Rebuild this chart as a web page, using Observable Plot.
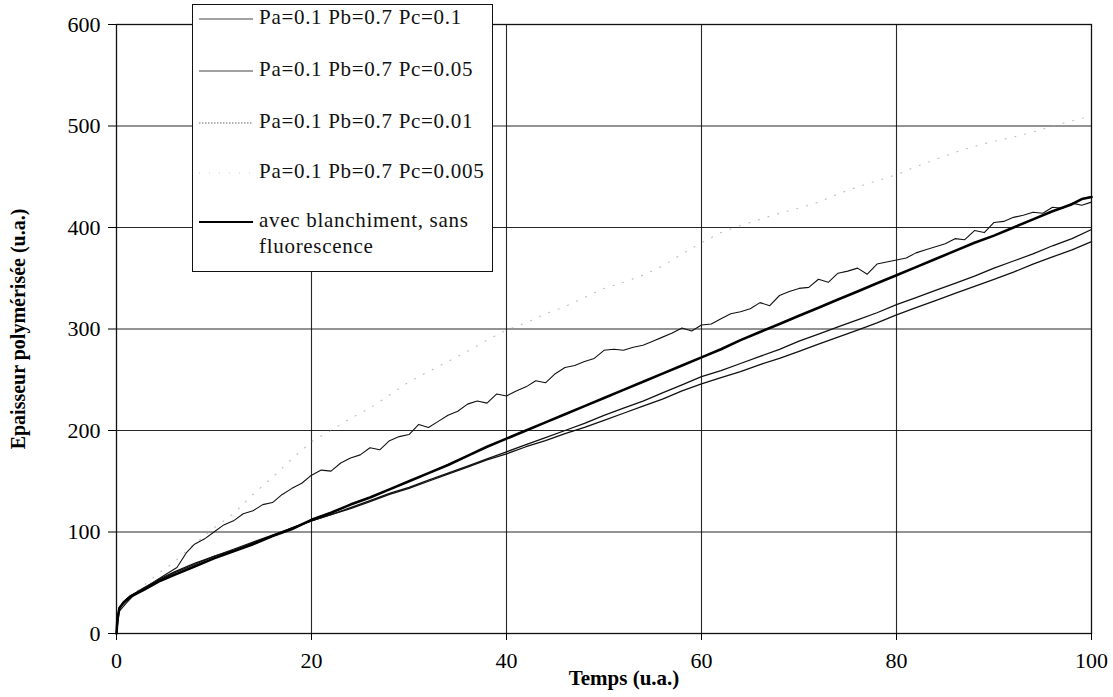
<!DOCTYPE html>
<html>
<head>
<meta charset="utf-8">
<script src="https://cdn.jsdelivr.net/npm/d3@7"></script>
<script src="https://cdn.jsdelivr.net/npm/@observablehq/plot@0.6"></script>
<style>
  html, body { margin: 0; padding: 0; background: #fff; }
  #wrap { position: relative; width: 1113px; height: 697px; font-family: "Liberation Serif", "Times New Roman", "DejaVu Serif", serif; }
  #wrap svg, #wrap svg text { font-family: "Liberation Serif", "Times New Roman", "DejaVu Serif", serif !important; }
  #legend { position: absolute; left: 192px; top: 4px; width: 301px; height: 268px; background: #fff; border: 1.3px solid #111; box-sizing: border-box; }
  #legend svg { position: absolute; left: 0; top: 0; }
</style>
</head>
<body>
<div id="wrap"><div id="legend"></div></div>
<script>
// ---------- data ----------
const xTicks = [0, 20, 40, 60, 80, 100];
const yTicks = [0, 100, 200, 300, 400, 500, 600];
const xLabel = "Temps (u.a.)";
const yLabel = "Epaisseur polymérisée (u.a.)";

const seriesNames = [
  "Pa=0.1 Pb=0.7 Pc=0.1",
  "Pa=0.1 Pb=0.7 Pc=0.05",
  "Pa=0.1 Pb=0.7 Pc=0.01",
  "Pa=0.1 Pb=0.7 Pc=0.005",
  "avec blanchiment, sans fluorescence"
];

// Pc = 0.1
const tPc01 = [0,0.1,0.3,0.7,1.4,2.8,4.5,6,8,10,12,14,16,18,20,22,24,26,28,30,32,34,36,38,40,42,44,46,48,50,52,54,56,58,60,62,64,66,68,70,72,74,76,78,80,82,84,86,88,90,92,94,96,98,100];
const vPc01 = [0,15,25,31,37,45,54,61,69,76,83,90,97,104,111,117,123,130,137,143,150,157,164,171,177,184,190,197,203,210,217,224,231,239,246,252,258,265,271,278,285,292,299,306,314,321,328,335,342,349,356,364,371,378,386];

// Pc = 0.05
const tPc005 = [0,0.1,0.3,0.7,1.4,2.8,4.5,6,8,10,12,14,16,18,20,22,24,26,28,30,32,34,36,38,40,42,44,46,48,50,52,54,56,58,60,62,64,66,68,70,72,74,76,78,80,82,84,86,88,90,92,94,96,98,100];
const vPc005 = [0,15,25,31,37,44,53,60,68,76,82,89,96,104,111,117,124,131,138,144,151,158,165,172,179,186,193,200,207,215,222,229,237,245,253,259,266,273,280,288,295,302,309,316,324,331,338,345,352,360,367,374,382,389,398];

// Pc = 0.01 (noisy)
const tPc001 = [0,0.3,1,2,2.4,4.5,6.2,7.2,8,9,10,11,12,13,14,15,16,17,18,19,20,21,22,23,24,25,26,27,28,29,30,31,32,33,34,35,36,37,38,39,40,41,42,43,44,45,46,47,48,49,50,51,52,53,54,55,56,57,58,59,60,61,62,63,64,65,66,67,68,69,70,71,72,73,74,75,76,77,78,79,80,81,82,83,84,85,86,87,88,89,90,91,92,93,94,95,96,97,98,99,100];
const vPc001 = [0,22,30,40,42,55,65,80,88,93,100,107,111,118,121,127,129,137,143,148,156,161,160,168,173,176,183,181,190,194,196,206,203,209,215,219,226,229,227,236,234,239,243,249,247,256,262,264,268,271,279,280,279,282,284,288,292,296,301,298,304,305,310,315,317,320,326,323,333,337,340,341,349,346,355,357,360,354,364,366,368,370,375,378,381,384,389,388,397,395,405,406,410,412,415,414,420,419,424,422,425];

// Pc = 0.005 (faint dotted)
const tPc0005 = [0,0.3,1,2,3,4,5,6,7,8,9,10,12,14,16,18,20,22,24,26,28,30,32,34,36,38,40,42,44,46,48,50,52,54,56,58,60,62,64,66,68,70,72,74,76,78,80,82,84,86,88,90,92,94,96,98,100];
const vPc0005 = [0,22,31,41,49,57,64,71,80,88,96,104,118,137,154,172,189,200,212,222,235,248,258,268,278,289,299,306,315,322,331,340,346,353,362,374,385,395,402,408,414,419,425,433,440,446,452,460,467,474,480,485,489,494,500,505,510];

// avec blanchiment, sans fluorescence (thick)
const tBlanch = [0,0.1,0.3,0.7,1.4,2.8,4.5,6,8,10,12,14,16,18,20,22,24,26,28,30,32,34,36,38,40,42,44,46,48,50,52,54,56,58,60,62,64,66,68,70,72,74,76,78,80,82,84,86,88,90,92,94,96,98,99,100];
const vBlanch = [0,15,25,30,36,43,52,58,66,74,81,88,96,103,112,119,127,134,142,150,158,166,175,184,192,200,208,216,224,232,240,248,256,264,272,280,289,297,305,313,321,329,337,345,353,361,369,377,385,392,400,408,416,423,428,430];

// ---------- build ----------
const toRows = (t, v) => t.map((x, i) => ({x, y: v[i]}));
const sPc01 = toRows(tPc01, vPc01);
const sPc005 = toRows(tPc005, vPc005);
const sPc001 = toRows(tPc001, vPc001);
const sPc0005 = toRows(tPc0005, vPc0005);
const sBlanch = toRows(tBlanch, vBlanch);

const font = "'Liberation Serif', 'Times New Roman', 'DejaVu Serif', serif";

const chart = Plot.plot({
  width: 1113,
  height: 697,
  marginLeft: 116,
  marginRight: 22,
  marginTop: 24,
  marginBottom: 64,
  style: {fontFamily: font, fontSize: "20px", background: "#fff", color: "#000"},
  x: {domain: [0, 100]},
  y: {domain: [0, 600]},
  marks: [
    Plot.gridX(xTicks.slice(1, -1), {stroke: "#111", strokeOpacity: 0.9, strokeWidth: 1.1}),
    Plot.gridY(yTicks.slice(1, -1), {stroke: "#111", strokeOpacity: 0.9, strokeWidth: 1.2}),
    Plot.frame({stroke: "#111", strokeWidth: 1.3}),
    Plot.axisY(yTicks, {tickSize: 8, tickPadding: 8, fontSize: 22, label: null}),
    Plot.axisX(xTicks, {tickSize: 7, tickPadding: 12, fontSize: 22, label: null}),
    Plot.line(sPc0005, {x: "x", y: "y", stroke: "#aaa", strokeWidth: 1.1, strokeDasharray: "1,9", strokeOpacity: 0.8}),
    Plot.line(sPc01, {x: "x", y: "y", stroke: "#111", strokeWidth: 1.3}),
    Plot.line(sPc005, {x: "x", y: "y", stroke: "#111", strokeWidth: 1.3}),
    Plot.line(sPc001, {x: "x", y: "y", stroke: "#111", strokeWidth: 1.1}),
    Plot.line(sBlanch, {x: "x", y: "y", stroke: "#000", strokeWidth: 2.6}),
    Plot.text([yLabel], {text: d => d, frameAnchor: "left", dx: -98, rotate: -90, fontSize: 20, fontWeight: "bold", textAnchor: "middle"}),
    Plot.text([xLabel], {text: d => d, frameAnchor: "bottom", dy: 51, dx: 20, fontSize: 21, fontWeight: "bold"})
  ]
});
document.getElementById("wrap").prepend(chart);

// ---------- legend ----------
const legendItems = [
  {lines: [seriesNames[0]], y: 12, stroke: "#444", width: 1.2, dash: null},
  {lines: [seriesNames[1]], y: 64, stroke: "#444", width: 1.2, dash: null},
  {lines: [seriesNames[2]], y: 116, stroke: "#666", width: 1.1, dash: "1.5,1.5"},
  {lines: [seriesNames[3]], y: 166, stroke: "#ccc", width: 1, dash: "1,9"},
  {lines: ["avec blanchiment, sans", "fluorescence"], y: 215, stroke: "#000", width: 2.2, dash: null}
];
const ns = "http://www.w3.org/2000/svg";
const lsvg = document.createElementNS(ns, "svg");
lsvg.setAttribute("width", 300);
lsvg.setAttribute("height", 266);
for (const it of legendItems) {
  const ln = document.createElementNS(ns, "line");
  ln.setAttribute("x1", 6); ln.setAttribute("x2", 60);
  ln.setAttribute("y1", it.y + 2); ln.setAttribute("y2", it.y + 2);
  ln.setAttribute("stroke", it.stroke);
  ln.setAttribute("stroke-width", it.width);
  if (it.dash) ln.setAttribute("stroke-dasharray", it.dash);
  lsvg.appendChild(ln);
  it.lines.forEach((s, k) => {
    const tx = document.createElementNS(ns, "text");
    tx.setAttribute("x", 66);
    tx.setAttribute("y", it.y + k * 26);
    tx.setAttribute("dy", "0.35em");
    tx.setAttribute("font-size", 21);
    tx.setAttribute("letter-spacing", "0.7");
    tx.setAttribute("fill", "#111");
    tx.textContent = s;
    lsvg.appendChild(tx);
  });
}
document.getElementById("legend").appendChild(lsvg);
</script>
</body>
</html>
